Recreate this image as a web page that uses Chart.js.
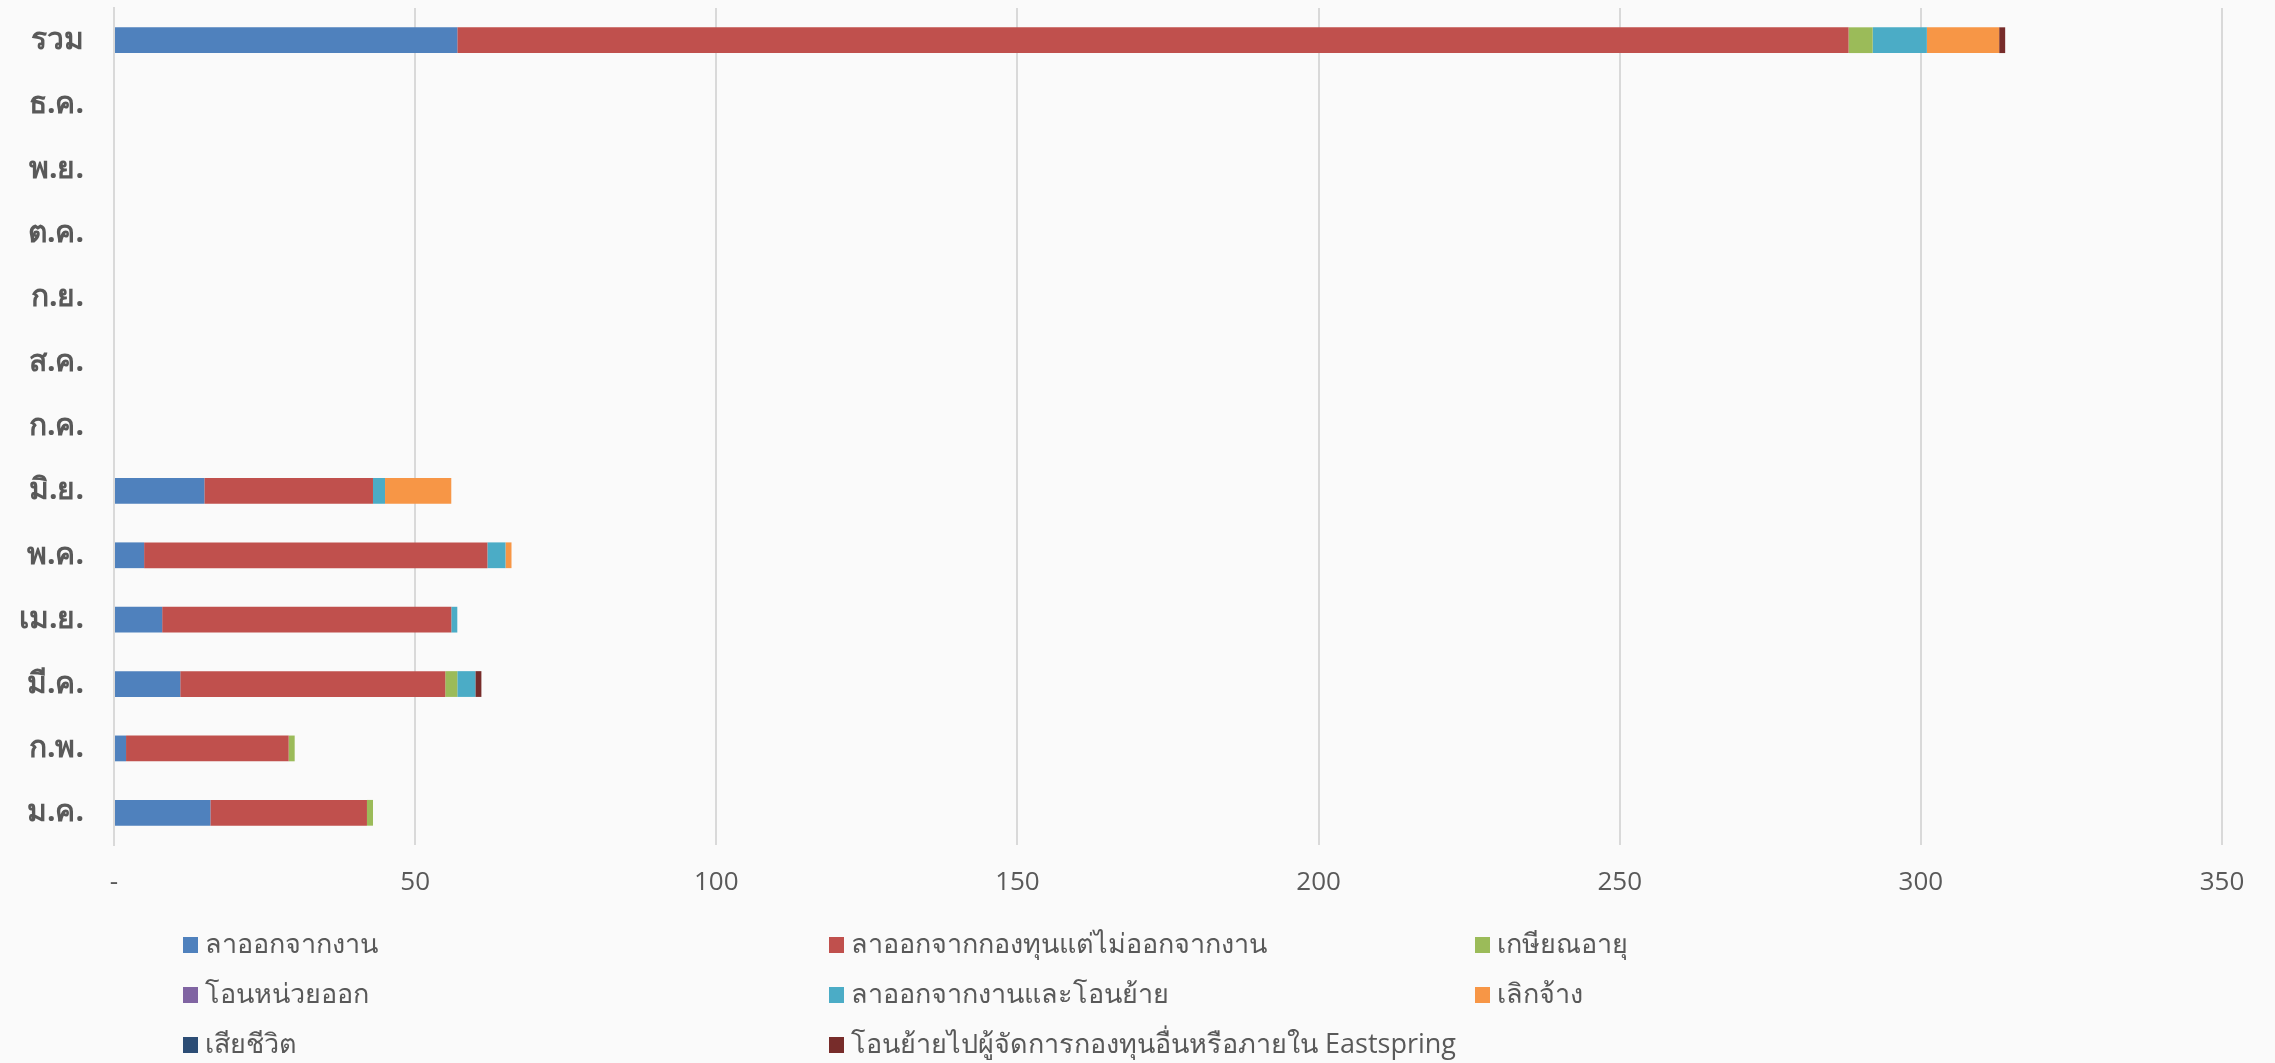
<!DOCTYPE html>
<html>
<head>
<meta charset="utf-8">
<script src="https://cdn.jsdelivr.net/npm/chart.js@4"></script>
<style>
  html, body { margin: 0; padding: 0; background: #fafafa; }
  #wrap { width: 2275px; height: 1063px; }
</style>
</head>
<body>
<div id="wrap"><canvas id="chart"></canvas></div>
<script>
// Categories (bottom to top)
const months = ['ม.ค.', 'ก.พ.', 'มี.ค.', 'เม.ย.', 'พ.ค.', 'มิ.ย.', 'ก.ค.', 'ส.ค.', 'ก.ย.', 'ต.ค.', 'พ.ย.', 'ธ.ค.', 'รวม'];

// Series values, one per category
const resigned      = [16, 2, 11, 8, 5, 15, 0, 0, 0, 0, 0, 0, 57];
const leftFundOnly  = [26, 27, 44, 48, 57, 28, 0, 0, 0, 0, 0, 0, 231];
const retired       = [1, 1, 2, 0, 0, 0, 0, 0, 0, 0, 0, 0, 4];
const unitTransfer  = [0, 0, 0, 0, 0, 0, 0, 0, 0, 0, 0, 0, 0];
const resignMoved   = [0, 0, 3, 1, 3, 2, 0, 0, 0, 0, 0, 0, 9];
const dismissed     = [0, 0, 0, 0, 1, 11, 0, 0, 0, 0, 0, 0, 12];
const deceased      = [0, 0, 0, 0, 0, 0, 0, 0, 0, 0, 0, 0, 0];
const movedManager  = [0, 0, 1, 0, 0, 0, 0, 0, 0, 0, 0, 0, 1];

const seriesNames = [
    'ลาออกจากงาน',
    'ลาออกจากกองทุนแต่ไม่ออกจากงาน',
    'เกษียณอายุ',
    'โอนหน่วยออก',
    'ลาออกจากงานและโอนย้าย',
    'เลิกจ้าง',
    'เสียชีวิต',
    'โอนย้ายไปผู้จัดการกองทุนอื่นหรือภายใน Eastspring'
];
const seriesColors = ['#4F81BD', '#C0504D', '#9BBB59', '#8064A2', '#4BACC6', '#F79646', '#2C4D75', '#772C2A'];
const seriesValues = [resigned, leftFundOnly, retired, unitTransfer, resignMoved, dismissed, deceased, movedManager];

// X axis ticks
const xMax = 350;
const xStep = 50;

const textColor = '#595959';
const fontFamily = "'Open Sans', 'Noto Sans', sans-serif";

const datasets = seriesNames.map((name, i) => ({
    label: name,
    data: seriesValues[i],
    backgroundColor: seriesColors[i],
    borderWidth: 0,
    barPercentage: 0.4,
    categoryPercentage: 1.0
}));

// Legend drawn as a 3-column grid under the plot
const gridLegend = {
    id: 'gridLegend',
    beforeDraw(chart) {
        const ctx = chart.ctx;
        ctx.save();
        ctx.fillStyle = '#fafafa';
        ctx.fillRect(0, 0, chart.width, chart.height);
        ctx.restore();
    },
    afterDraw(chart) {
        const ctx = chart.ctx;
        const colX = [183, 829, 1475];
        const rowY = [945, 995, 1045];
        ctx.save();
        ctx.font = "27px " + fontFamily;
        ctx.textBaseline = 'middle';
        chart.data.datasets.forEach((ds, i) => {
            const x = colX[i % 3];
            const y = rowY[Math.floor(i / 3)];
            ctx.fillStyle = ds.backgroundColor;
            ctx.fillRect(x, y - 8, 15, 16);
            ctx.fillStyle = textColor;
            ctx.fillText(ds.label, x + 22, y);
        });
        ctx.restore();
    }
};

const chart = new Chart(document.getElementById('chart'), {
    type: 'bar',
    data: { labels: months, datasets },
    options: {
        indexAxis: 'y',
        responsive: true,
        maintainAspectRatio: false,
        animation: false,
        layout: { padding: { top: 8, right: 53, left: 0, bottom: 0 } },
        plugins: {
            legend: { display: false },
            tooltip: { enabled: false }
        },
        scales: {
            x: {
                stacked: true,
                min: 0,
                max: xMax,
                ticks: {
                    stepSize: xStep,
                    color: textColor,
                    padding: 22,
                    font: { family: fontFamily, size: 26 },
                    callback: v => v === 0 ? '-' : v
                },
                grid: { color: '#d9d9d9', lineWidth: 2, drawTicks: false },
                border: { display: false },
                afterFit: s => {
                    s.height = 1063 - 845;
                    s.paddingLeft = 0;
                    s.paddingRight = 0;
                }
            },
            y: {
                stacked: true,
                reverse: true,
                ticks: {
                    color: textColor,
                    padding: 30,
                    font: { family: fontFamily, size: 30, weight: 'bold' }
                },
                grid: { display: false, drawTicks: false },
                border: { display: true, color: '#d9d9d9', width: 2 },
                afterFit: s => {
                    s.width = 114;
                    s.paddingTop = 0;
                    s.paddingBottom = 0;
                }
            }
        }
    },
    plugins: [gridLegend]
});
</script>
</body>
</html>
